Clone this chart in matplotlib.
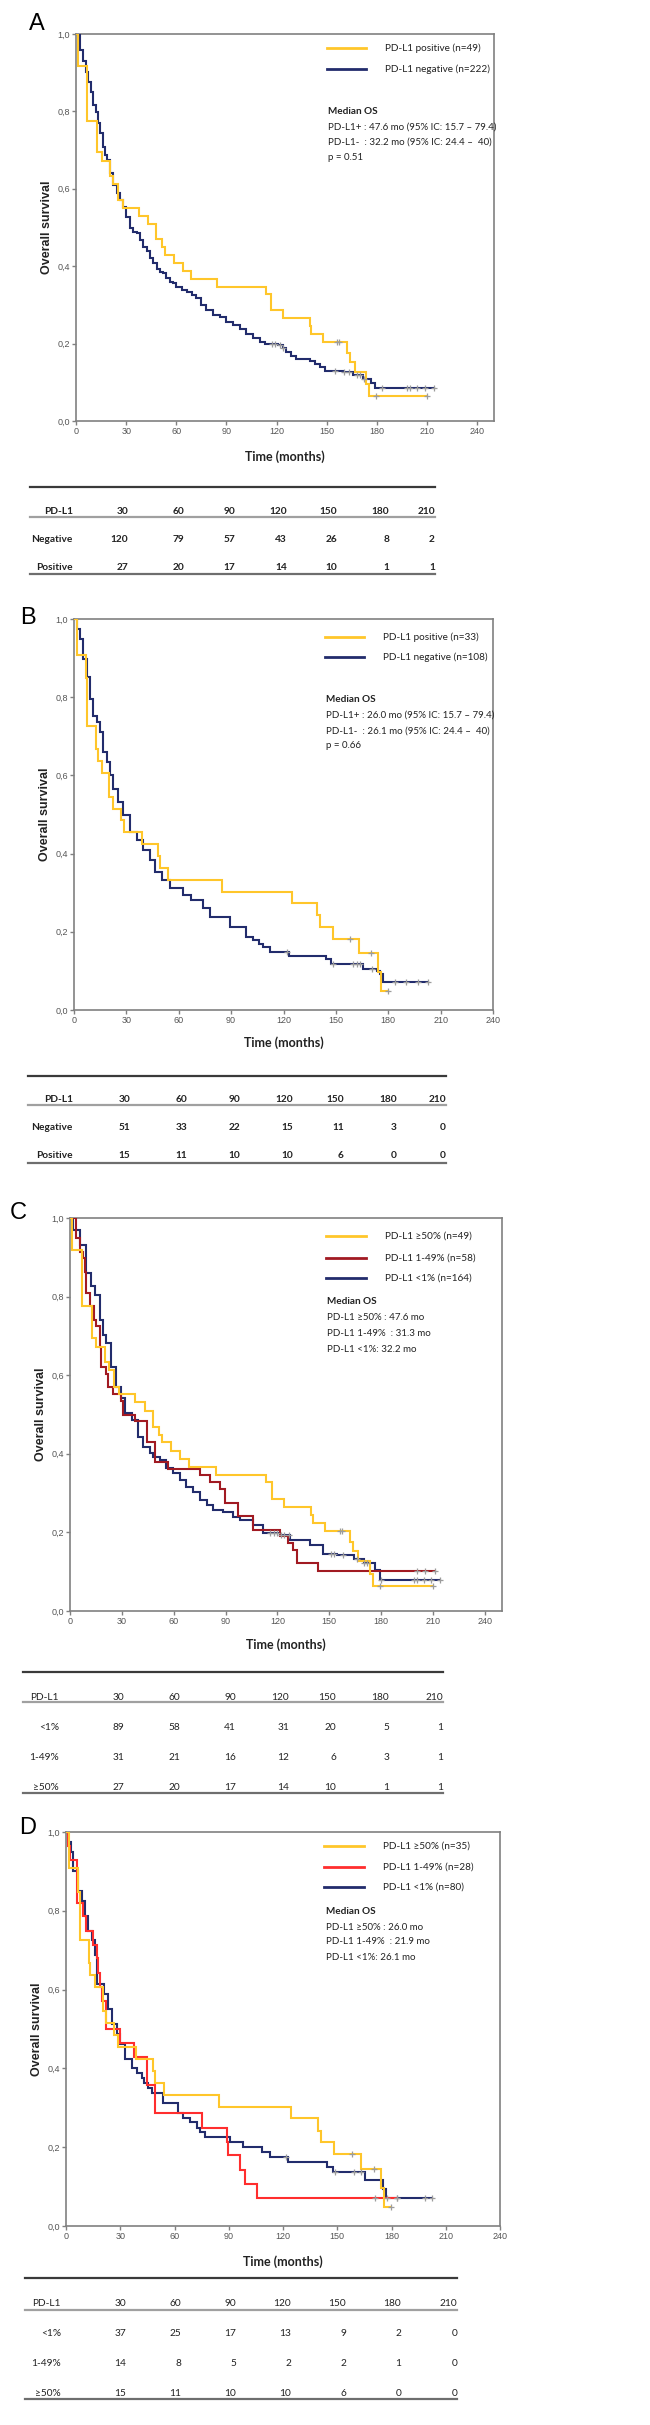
import numpy as np
import matplotlib
matplotlib.use("Agg")
import matplotlib.pyplot as plt

W, H = 650, 2425

# ---------------- data ----------------
months = [30, 60, 90, 120, 150, 180, 210]

# PD-L1 positive / >=50 % (whole cohort) - panels A and C
pos_all_t = [0, 1.4, 6.8, 12.7, 15.3, 20.3, 22.3, 25.3, 28.3, 37.8, 43.2, 47.8, 51.7, 53.5,
             58.7, 63.7, 69, 84.6, 113.4, 116.8, 123.8, 139.7, 140.5, 147.7, 162, 164, 166.8,
             173.5, 175.5, 210]
pos_all_s = [1.0, 0.918, 0.776, 0.694, 0.673, 0.633, 0.612, 0.571, 0.551, 0.531, 0.51, 0.469,
             0.449, 0.429, 0.408, 0.388, 0.367, 0.347, 0.327, 0.286, 0.265, 0.245, 0.224, 0.204,
             0.176, 0.153, 0.127, 0.095, 0.064, 0.064]
pos_all_cens = [156, 157.5, 179.5, 210]

# PD-L1 negative (whole cohort) - panel A
neg_all_t = [0, 2.4, 4.4, 6.0, 7.4, 8.8, 10.3, 11.9, 13.3, 14.3, 15.9, 17.3, 18.3, 20.3, 22.3,
             24.3, 26.3, 28.3, 30.2, 32.2, 34.2, 36.2, 38.2, 40.2, 42.2, 44.2, 46.2, 48.2, 50.1,
             52.1, 54.1, 56.1, 58.1, 60.1, 63.1, 66.1, 69.1, 72.0, 75.0, 78.0, 82.0, 86.0, 90.0,
             93.9, 97.9, 101.9, 105.9, 109.9, 112.8, 120.8, 123.8, 125.8, 128.8, 131.7, 139.7,
             142.7, 145.7, 148.7, 159.6, 165.6, 171.5, 176.5, 179.1, 214]
neg_all_s = [1.0, 0.959, 0.929, 0.903, 0.877, 0.851, 0.816, 0.799, 0.769, 0.743, 0.709, 0.687,
             0.674, 0.640, 0.610, 0.588, 0.571, 0.554, 0.528, 0.498, 0.489, 0.485, 0.468, 0.450,
             0.438, 0.420, 0.407, 0.394, 0.386, 0.382, 0.369, 0.360, 0.356, 0.347, 0.338, 0.334,
             0.325, 0.318, 0.299, 0.286, 0.273, 0.269, 0.257, 0.248, 0.239, 0.225, 0.214, 0.205,
             0.199, 0.196, 0.188, 0.179, 0.168, 0.159, 0.155, 0.148, 0.140, 0.130, 0.127, 0.119,
             0.108, 0.097, 0.086, 0.086]
neg_all_cens = [117, 119, 122, 124, 155, 160, 163, 168, 170, 172, 183, 198, 200, 204, 209, 214]

# PD-L1 positive / >=50 % (subgroup) - panels B and D
pos_sub_t = [0, 1.9, 6.9, 7.5, 12.5, 13.5, 15.8, 20.2, 22.1, 26.7, 28.6, 38.7, 48.3, 49.3, 54,
             84.5, 124.6, 139.3, 140.8, 148.4, 163.3, 174.2, 176, 179.7]
pos_sub_s = [1.0, 0.909, 0.848, 0.727, 0.667, 0.636, 0.606, 0.545, 0.515, 0.485, 0.455, 0.424,
             0.394, 0.364, 0.333, 0.303, 0.273, 0.242, 0.212, 0.182, 0.145, 0.097, 0.048, 0.048]
pos_sub_cens = [158, 170.3, 179.7]

# PD-L1 negative (subgroup) - panel B
neg_sub_t = [0, 1.5, 3.4, 5.3, 7.2, 9.2, 11.1, 13, 14.9, 16.8, 18.7, 20.6, 22.5, 25.4, 28.2, 32,
             35.9, 39.7, 43.5, 46.4, 50.2, 54.9, 62.6, 67.3, 74, 77.8, 89.3, 98.8, 102.6, 106,
             108.4, 112.3, 123, 144.6, 147, 165.4, 173.8, 175.4, 177, 203]
neg_sub_s = [1.0, 0.975, 0.949, 0.898, 0.851, 0.796, 0.753, 0.736, 0.71, 0.66, 0.634, 0.6, 0.566,
             0.532, 0.498, 0.455, 0.434, 0.409, 0.383, 0.353, 0.332, 0.311, 0.294, 0.281, 0.26,
             0.238, 0.213, 0.187, 0.179, 0.169, 0.162, 0.148, 0.139, 0.131, 0.118, 0.105, 0.1,
             0.092, 0.071, 0.071]
neg_sub_cens = [121.8, 148.5, 160, 162, 164, 170.8, 184, 190, 197, 203]

# PD-L1 1-49 % (whole cohort) - panel C
mid_all_t = [0, 3.7, 5.6, 7.5, 8.5, 9.5, 11.4, 13.9, 15.3, 17.2, 18.2, 21.1, 22, 24.9, 29.8, 30.7,
             37.5, 44.3, 49.1, 56.8, 75.2, 81, 86.8, 89.6, 97.4, 106.1, 121.5, 126.4, 129.3,
             131.2, 143.8, 211.4]
mid_all_s = [1.0, 0.948, 0.914, 0.897, 0.862, 0.810, 0.776, 0.741, 0.724, 0.672, 0.621, 0.603,
             0.569, 0.552, 0.534, 0.500, 0.483, 0.431, 0.379, 0.362, 0.345, 0.328, 0.310, 0.276,
             0.241, 0.207, 0.190, 0.172, 0.155, 0.121, 0.103, 0.103]
mid_all_cens = [200.8, 205.6, 211.4]

# PD-L1 <1 % (whole cohort) - panel C
low_all_t = [0, 1.7, 5.6, 9.5, 12.4, 14.3, 17.2, 19.1, 21.1, 24, 26.9, 29.8, 31.7, 35.6, 39.4,
             42.3, 46.2, 48.1, 52, 55.8, 59.7, 63.6, 67.4, 71.3, 75.2, 79, 82.9, 88.7, 94.5, 98.4,
             106.1, 111.9, 121.5, 127.3, 138.9, 146.7, 154.4, 164.1, 169.9, 176.6, 179.5, 214.3]
low_all_s = [1.0, 0.97, 0.932, 0.86, 0.826, 0.805, 0.741, 0.703, 0.681, 0.622, 0.571, 0.541,
             0.503, 0.486, 0.443, 0.418, 0.401, 0.393, 0.384, 0.363, 0.35, 0.333, 0.316, 0.303,
             0.282, 0.269, 0.257, 0.252, 0.24, 0.231, 0.218, 0.199, 0.193, 0.18, 0.167, 0.146,
             0.142, 0.133, 0.121, 0.104, 0.078, 0.078]
low_all_cens = [116, 118, 120, 122, 124, 127, 151, 153, 158, 166, 170, 172, 180, 199, 201, 205,
                209, 214.3]

# PD-L1 1-49 % (subgroup) - panel D
mid_sub_t = [0, 1.1, 2, 5.9, 9.6, 11.1, 15.1, 17, 17.9, 18.8, 19.7, 22.1, 29.9, 37.8, 44.6, 49.2,
             75, 88.8, 89.8, 96.2, 99, 105.8, 183]
mid_sub_s = [1.0, 0.964, 0.929, 0.821, 0.786, 0.75, 0.714, 0.679, 0.643, 0.607, 0.571, 0.5,
             0.464, 0.429, 0.357, 0.286, 0.25, 0.214, 0.179, 0.143, 0.107, 0.071, 0.071]
mid_sub_cens = [170.9, 183]

# PD-L1 <1 % (subgroup) - panel D
low_sub_t = [0, 1.3, 2.5, 4, 6.8, 8.7, 10.5, 12.4, 14.2, 16, 17, 21, 23, 25.6, 28, 29.9, 32.6,
             36.3, 39.1, 41.8, 43, 45.5, 47.4, 53.8, 62.1, 64.9, 68.6, 72.3, 74.1, 76.9, 90.7,
             98.1, 108.2, 112.8, 123, 144.1, 147.8, 165.3, 175.5, 177, 202.2]
low_sub_s = [1.0, 0.975, 0.95, 0.9, 0.85, 0.825, 0.788, 0.75, 0.725, 0.688, 0.613, 0.588, 0.55,
             0.513, 0.488, 0.463, 0.425, 0.4, 0.388, 0.375, 0.363, 0.35, 0.338, 0.313, 0.288,
             0.275, 0.263, 0.25, 0.238, 0.225, 0.213, 0.2, 0.188, 0.175, 0.163, 0.15, 0.138,
             0.116, 0.095, 0.072, 0.072]
low_sub_cens = [121.8, 148.5, 159.5, 163, 177.5, 183, 198.5, 202.2]

# numbers at risk
riskA_labels = ["Negative", "Positive"]
riskA = [[120, 79, 57, 43, 26, 8, 2], [27, 20, 17, 14, 10, 1, 1]]
riskB_labels = ["Negative", "Positive"]
riskB = [[51, 33, 22, 15, 11, 3, 0], [15, 11, 10, 10, 6, 0, 0]]
riskC_labels = ["<1%", "1-49%", "\u226550%"]
riskC = [[89, 58, 41, 31, 20, 5, 1], [31, 21, 16, 12, 6, 3, 1], [27, 20, 17, 14, 10, 1, 1]]
riskD_labels = ["<1%", "1-49%", "\u226550%"]
riskD = [[37, 25, 17, 13, 9, 2, 0], [14, 8, 5, 2, 2, 1, 0], [15, 11, 10, 10, 6, 0, 0]]

legA = ["PD-L1 positive (n=49)", "PD-L1 negative (n=222)"]
legB = ["PD-L1 positive (n=33)", "PD-L1 negative (n=108)"]
legC = ["PD-L1 \u226550% (n=49)", "PD-L1 1-49% (n=58)", "PD-L1 <1% (n=164)"]
legD = ["PD-L1 \u226550% (n=35)", "PD-L1 1-49% (n=28)", "PD-L1 <1% (n=80)"]

medA = ["PD-L1+ : 47.6 mo (95% IC: 15.7 \u2013 79.4)", "PD-L1-  : 32.2 mo (95% IC: 24.4 \u2013  40)", "p = 0.51"]
medB = ["PD-L1+ : 26.0 mo (95% IC: 15.7 \u2013 79.4)", "PD-L1-  : 26.1 mo (95% IC: 24.4 \u2013  40)", "p = 0.66"]
medC = ["PD-L1 \u226550% : 47.6 mo", "PD-L1 1-49%  : 31.3 mo", "PD-L1 <1%: 32.2 mo"]
medD = ["PD-L1 \u226550% : 26.0 mo", "PD-L1 1-49%  : 21.9 mo", "PD-L1 <1%: 26.1 mo"]

# ---------------- styling ----------------
YEL = "#FFC62A"
NAVY = "#222C6C"
DRED = "#A11A22"
RED = "#FF2E2E"
CENS = "#9C9C9C"
SPINE = "#808080"

TXT = ["Lato", "DejaVu Sans"]
ARIAL = ["Liberation Sans", "DejaVu Sans"]

fig = plt.figure(figsize=(W / 100, H / 100), dpi=100)


def px_axes(x0, y0, x1, y1):
    return fig.add_axes([x0 / W, 1 - y1 / H, (x1 - x0) / W, (y1 - y0) / H])


def censor_y(t, s, tc):
    idx = np.searchsorted(np.asarray(t), np.asarray(tc), side="right") - 1
    return np.asarray(s)[np.clip(idx, 0, len(s) - 1)]


def km_axes(box, xmax, curves):
    ax = px_axes(*box)
    for t, s, cens, col in curves:
        ax.plot(t, s, drawstyle="steps-post", color=col, lw=1.5, solid_joinstyle="miter", zorder=3)
        ax.plot(cens, censor_y(t, s, cens), ls="none", marker="+", ms=4.5, mew=0.9,
                color=CENS, zorder=4)
    ax.set_xlim(0, xmax)
    ax.set_ylim(0, 1.0)
    ax.set_xticks(range(0, 241, 30))
    ax.set_xticklabels([str(v) for v in range(0, 241, 30)])
    yt = [0, 0.2, 0.4, 0.6, 0.8, 1.0]
    ax.set_yticks(yt)
    ax.set_yticklabels([f"{v:.1f}".replace(".", ",") for v in yt])
    for sp in ax.spines.values():
        sp.set_color(SPINE)
        sp.set_linewidth(1.2)
    ax.tick_params(direction="out", length=3, width=1, color=SPINE, labelcolor="#555555",
                   labelsize=6.5, pad=1.5)
    for lab in ax.get_xticklabels() + ax.get_yticklabels():
        lab.set_family(ARIAL)
    return ax


panels = [
    dict(letter="A", letter_xy=(37, 24), box=(76, 34, 494, 421), xmax=250, ylab_x=47, time_y=457,
         curves=[(neg_all_t, neg_all_s, neg_all_cens, NAVY),
                 (pos_all_t, pos_all_s, pos_all_cens, YEL)],
         leg=legA, leg_cols=[YEL, NAVY], leg_y=[48, 69], leg_x=(327, 366), leg_tx=385,
         med=medA, med_x=328, med_y=[111, 127, 142, 157],
         risk_labels=riskA_labels, risk=riskA, bold=True,
         tab=dict(top=487, header=511, under=517, rows=[540, 567], bottom=574, x0=30, x1=435,
                  lab_r=73, cols=[128, 184, 235, 287, 337, 389, 435])),
    dict(letter="B", letter_xy=(28, 618), box=(74, 619, 493, 1010), xmax=240, ylab_x=45, time_y=1043,
         curves=[(neg_sub_t, neg_sub_s, neg_sub_cens, NAVY),
                 (pos_sub_t, pos_sub_s, pos_sub_cens, YEL)],
         leg=legB, leg_cols=[YEL, NAVY], leg_y=[637, 657], leg_x=(325, 364), leg_tx=383,
         med=medB, med_x=326, med_y=[700, 715, 731, 746],
         risk_labels=riskB_labels, risk=riskB, bold=True,
         tab=dict(top=1076, header=1099, under=1105, rows=[1128, 1156], bottom=1163, x0=28, x1=446,
                  lab_r=73, cols=[130, 187, 240, 293, 344, 397, 446])),
    dict(letter="C", letter_xy=(18, 1213), box=(70, 1218, 502, 1611), xmax=250, ylab_x=41, time_y=1645,
         curves=[(low_all_t, low_all_s, low_all_cens, NAVY),
                 (mid_all_t, mid_all_s, mid_all_cens, DRED),
                 (pos_all_t, pos_all_s, pos_all_cens, YEL)],
         leg=legC, leg_cols=[YEL, DRED, NAVY], leg_y=[1236, 1258, 1278], leg_x=(326, 366), leg_tx=385,
         med=medC, med_x=327, med_y=[1302, 1318, 1334, 1349],
         risk_labels=riskC_labels, risk=riskC, bold=False,
         tab=dict(top=1672, header=1697, under=1702, rows=[1727, 1757, 1787], bottom=1793, x0=23,
                  x1=443, lab_r=59, cols=[124, 180, 236, 289, 336, 389, 443])),
    dict(letter="D", letter_xy=(28, 1828), box=(66, 1832, 500, 2226), xmax=240, ylab_x=37, time_y=2262,
         curves=[(low_sub_t, low_sub_s, low_sub_cens, NAVY),
                 (mid_sub_t, mid_sub_s, mid_sub_cens, RED),
                 (pos_sub_t, pos_sub_s, pos_sub_cens, YEL)],
         leg=legD, leg_cols=[YEL, RED, NAVY], leg_y=[1846, 1867, 1887], leg_x=(324, 364), leg_tx=383,
         med=medD, med_x=326, med_y=[1911, 1927, 1942, 1958],
         risk_labels=riskD_labels, risk=riskD, bold=False,
         tab=dict(top=2278, header=2304, under=2310, rows=[2334, 2364, 2393], bottom=2399, x0=25,
                  x1=457, lab_r=61, cols=[126, 181, 236, 291, 346, 401, 457])),
]

for p in panels:
    km_axes(p["box"], p["xmax"], p["curves"])

# overlay in pixel coordinates for labels, legends and risk tables
ov = fig.add_axes([0, 0, 1, 1])
ov.set_xlim(0, W)
ov.set_ylim(H, 0)
ov.axis("off")

for p in panels:
    x0, y0, x1, y1 = p["box"]
    ov.text(*p["letter_xy"], p["letter"], fontsize=17, family=ARIAL, ha="center", va="center")
    ov.text(p["ylab_x"], (y0 + y1) / 2, "Overall survival", rotation=90, fontsize=9,
            fontweight="bold", family=ARIAL, ha="center", va="center", color="#222222")
    ov.text((x0 + x1) / 2, p["time_y"], "Time (months)", fontsize=9, fontweight="bold",
            family=TXT, ha="center", va="center", color="#222222")
    # legend
    for lab, col, ly in zip(p["leg"], p["leg_cols"], p["leg_y"]):
        ov.plot(p["leg_x"], [ly, ly], color=col, lw=2)
        ov.text(p["leg_tx"], ly, lab, fontsize=7.2, family=TXT, ha="left", va="center",
                color="#222222")
    ov.text(p["med_x"], p["med_y"][0], "Median OS", fontsize=7.2, fontweight="bold", family=TXT,
            ha="left", va="center", color="#222222")
    for txt, my in zip(p["med"], p["med_y"][1:]):
        ov.text(p["med_x"], my, txt, fontsize=7.0, family=TXT, ha="left", va="center",
                color="#222222")
    # risk table
    t = p["tab"]
    wt = "bold" if p["bold"] else "normal"
    ov.plot([t["x0"], t["x1"]], [t["top"], t["top"]], color="#3a3a3a", lw=1.6)
    ov.plot([t["x0"], t["x1"]], [t["under"], t["under"]], color="#a0a0a0", lw=1.6)
    ov.plot([t["x0"], t["x1"]], [t["bottom"], t["bottom"]], color="#6e6e6e", lw=1.6)
    ov.text(t["lab_r"], t["header"], "PD-L1", fontsize=7.3, fontweight=wt, family=TXT,
            ha="right", va="center", color="#222222")
    for m, cx in zip(months, t["cols"]):
        ov.text(cx, t["header"], str(m), fontsize=7.3, fontweight=wt, family=TXT,
                ha="right", va="center", color="#222222")
    for lab, vals, ry in zip(p["risk_labels"], p["risk"], t["rows"]):
        ov.text(t["lab_r"], ry, lab, fontsize=7.3, fontweight=wt, family=TXT,
                ha="right", va="center", color="#222222")
        for v, cx in zip(vals, t["cols"]):
            ov.text(cx, ry, str(v), fontsize=7.3, fontweight=wt, family=TXT,
                    ha="right", va="center", color="#222222")

fig.savefig("out.png", dpi=100, facecolor="white")
